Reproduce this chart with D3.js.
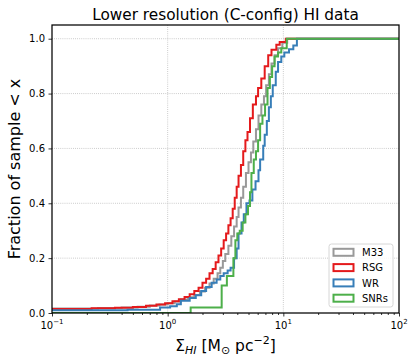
<!DOCTYPE html>
<html>
<head>
<meta charset="utf-8">
<script src="https://cdn.jsdelivr.net/npm/d3@7"></script>
<style>
  body { margin: 0; background: #fff; }
  text { font-family: "DejaVu Sans", sans-serif; fill: #000; }
</style>
</head>
<body>
<svg id="chart"></svg>
<script>
// cumulative step curves: x = step position (M_sun pc^-2), y = fraction of sample
const seriesNames = ["M33", "RSG", "WR", "SNRs"];
const seriesColors = ["#999999", "#e41a1c", "#377eb8", "#4daf4a"];

const m33X = [0.1, 0.25, 0.4, 0.55, 0.7, 0.85, 1.0, 1.15, 1.3, 1.5, 1.7, 1.9, 2.1, 2.3, 2.5, 2.7, 2.85, 3.0, 3.15, 3.35, 3.55, 3.75, 3.95, 4.1, 4.3, 4.5, 4.75, 5.0, 5.25, 5.5, 5.8, 6.1, 6.45, 6.8, 7.1, 7.5, 7.9, 8.4, 9.0, 9.8, 10.8, 100];
const m33Y = [0.016, 0.018, 0.02, 0.023, 0.027, 0.031, 0.036, 0.042, 0.049, 0.057, 0.066, 0.078, 0.092, 0.108, 0.125, 0.145, 0.165, 0.19, 0.215, 0.245, 0.28, 0.315, 0.35, 0.385, 0.42, 0.46, 0.51, 0.55, 0.585, 0.625, 0.67, 0.72, 0.76, 0.79, 0.83, 0.87, 0.91, 0.94, 0.965, 0.985, 1.0, 1.0];

const rsgX = [0.1, 0.22, 0.35, 0.5, 0.65, 0.8, 0.95, 1.1, 1.25, 1.4, 1.55, 1.7, 1.85, 2.0, 2.15, 2.3, 2.45, 2.6, 2.75, 2.9, 3.05, 3.2, 3.35, 3.5, 3.65, 3.8, 3.95, 4.1, 4.3, 4.5, 4.7, 4.9, 5.15, 5.45, 5.8, 6.05, 6.45, 6.9, 7.4, 7.9, 8.7, 9.3, 10.5, 100];
const rsgY = [0.015, 0.017, 0.019, 0.022, 0.026, 0.031, 0.036, 0.043, 0.05, 0.058, 0.068, 0.08, 0.092, 0.11, 0.125, 0.145, 0.16, 0.185, 0.21, 0.235, 0.265, 0.29, 0.32, 0.345, 0.38, 0.42, 0.46, 0.5, 0.54, 0.59, 0.63, 0.66, 0.71, 0.76, 0.79, 0.82, 0.855, 0.9, 0.94, 0.96, 0.978, 0.988, 1.0, 1.0];

const wrX = [0.1, 0.45, 0.86, 1.05, 1.2, 1.3, 1.55, 1.75, 1.95, 2.15, 2.4, 2.65, 2.85, 3.05, 3.3, 3.5, 3.75, 3.95, 4.1, 4.35, 4.55, 4.8, 5.1, 5.4, 5.75, 6.1, 6.3, 6.7, 6.9, 7.2, 7.5, 7.8, 8.1, 8.6, 9.0, 9.6, 10.2, 11.2, 12.2, 13.1, 100];
const wrY = [0.01, 0.012, 0.02, 0.025, 0.032, 0.045, 0.055, 0.065, 0.08, 0.095, 0.11, 0.122, 0.135, 0.145, 0.155, 0.165, 0.2, 0.235, 0.29, 0.33, 0.36, 0.4, 0.41, 0.45, 0.48, 0.52, 0.56, 0.61, 0.65, 0.7, 0.75, 0.79, 0.83, 0.88, 0.915, 0.935, 0.95, 0.962, 0.975, 1.0, 1.0];

const snrX = [0.1, 1.58, 2.93, 3.25, 3.7, 3.85, 4.0, 4.2, 4.45, 4.7, 4.95, 5.15, 5.3, 5.55, 5.8, 6.05, 6.3, 6.6, 6.95, 7.3, 7.65, 8.0, 8.4, 9.0, 9.6, 10.7, 100];
const snrY = [0, 0.02, 0.1, 0.135, 0.2, 0.265, 0.29, 0.3, 0.33, 0.36, 0.39, 0.44, 0.51, 0.56, 0.59, 0.63, 0.69, 0.72, 0.76, 0.82, 0.86, 0.9, 0.935, 0.95, 0.965, 1.0, 1.0];

const xTicks = [0.1, 1, 10, 100];
const xTickExp = ["\u22121", "0", "1", "2"];
const yTicks = [0, 0.2, 0.4, 0.6, 0.8, 1.0];

const W = 415, H = 362;
const margin = { left: 52, top: 25, right: 16, bottom: 49 };
const pw = W - margin.left - margin.right;
const ph = H - margin.top - margin.bottom;

const svg = d3.select("#chart").attr("width", W).attr("height", H);

const x = d3.scaleLog().domain([0.1, 100]).range([0, pw]);
const y = d3.scaleLinear().domain([0, 1.05]).range([ph, 0]);

const g = svg.append("g").attr("transform", `translate(${margin.left},${margin.top})`);

g.append("clipPath").attr("id", "clip")
  .append("rect").attr("width", pw).attr("height", ph);

// grid
const gridCol = "#b0b0b0";
g.append("g").selectAll("line").data(xTicks.slice(1, 3)).join("line")
  .attr("x1", d => x(d)).attr("x2", d => x(d))
  .attr("y1", 0).attr("y2", ph)
  .attr("stroke", gridCol).attr("stroke-width", 0.8).attr("stroke-dasharray", "0.8,1.3");
g.append("g").selectAll("line").data(yTicks.slice(1)).join("line")
  .attr("x1", 0).attr("x2", pw)
  .attr("y1", d => y(d)).attr("y2", d => y(d))
  .attr("stroke", gridCol).attr("stroke-width", 0.8).attr("stroke-dasharray", "0.8,1.3");

// step curves
const series = [
  { xs: m33X, ys: m33Y },
  { xs: rsgX, ys: rsgY },
  { xs: wrX, ys: wrY },
  { xs: snrX, ys: snrY }
];
const line = d3.line()
  .x(d => x(d[0]))
  .y(d => y(d[1]))
  .curve(d3.curveStepAfter);

series.forEach((s, i) => {
  g.append("path")
    .datum(d3.zip(s.xs, s.ys))
    .attr("clip-path", "url(#clip)")
    .attr("d", line)
    .attr("fill", "none")
    .attr("stroke", seriesColors[i])
    .attr("stroke-width", 2);
});

// axes
const xAxis = g.append("g").attr("transform", `translate(0,${ph})`)
  .call(d3.axisBottom(x).tickValues(xTicks).tickSize(3.5).tickFormat(""));
xAxis.select(".domain").remove();
const minor = [];
for (let e = -1; e < 2; e++) for (let k = 2; k < 10; k++) minor.push(k * Math.pow(10, e));
g.append("g").attr("transform", `translate(0,${ph})`)
  .call(d3.axisBottom(x).tickValues(minor).tickSize(2).tickFormat(""))
  .select(".domain").remove();

xTicks.forEach((t, i) => {
  const tx = g.append("text")
    .attr("x", x(t)).attr("y", ph + 15.5)
    .attr("text-anchor", "middle")
    .attr("font-size", 10);
  tx.append("tspan").text("10");
  tx.append("tspan").attr("dy", -4.5).attr("font-size", 7).text(xTickExp[i]);
});

const yAxis = g.append("g")
  .call(d3.axisLeft(y).tickValues(yTicks).tickSize(3.5).tickPadding(3.5).tickFormat(d3.format(".1f")));
yAxis.select(".domain").remove();
yAxis.selectAll("text").attr("font-size", 10).attr("font-family", "DejaVu Sans");
g.selectAll(".tick line").attr("stroke", "#000").attr("stroke-width", 0.8);

// frame
g.append("rect").attr("width", pw).attr("height", ph)
  .attr("fill", "none").attr("stroke", "#000").attr("stroke-width", 1.25);

// title and labels
svg.append("text")
  .attr("x", margin.left + pw / 2).attr("y", 19.5)
  .attr("text-anchor", "middle").attr("font-size", 15.3)
  .text("Lower resolution (C-config) HI data");

svg.append("text")
  .attr("transform", `translate(20,${margin.top + ph / 2}) rotate(-90)`)
  .attr("text-anchor", "middle").attr("font-size", 16)
  .text("Fraction of sample < x");

const xl = svg.append("text")
  .attr("x", margin.left + pw / 2).attr("y", 350.5)
  .attr("text-anchor", "middle").attr("font-size", 15.5);
xl.append("tspan").text("\u03a3");
xl.append("tspan").attr("dy", 3.3).attr("font-size", 11).attr("font-style", "italic").text("HI");
xl.append("tspan").attr("dy", -3.3).text(" [M");
xl.append("tspan").attr("dy", 3.3).attr("font-size", 11).text("\u2299");
xl.append("tspan").attr("dy", -3.3).text(" pc");
xl.append("tspan").attr("dy", -6.5).attr("font-size", 11).text("\u22122");
xl.append("tspan").attr("dy", 6.5).text("]");

// legend
const lg = g.append("g").attr("transform", `translate(${pw - 70},${ph - 69})`);
lg.append("rect").attr("width", 64).attr("height", 63).attr("rx", 2.5)
  .attr("fill", "#fff").attr("fill-opacity", 0.8)
  .attr("stroke", "#cccccc").attr("stroke-width", 0.8);
seriesNames.forEach((n, i) => {
  const ry = 8.3 + i * 15.3;
  lg.append("rect").attr("x", 4.5).attr("y", ry - 3.5).attr("width", 20).attr("height", 7)
    .attr("fill", "none").attr("stroke", seriesColors[i]).attr("stroke-width", 2);
  lg.append("text").attr("x", 33).attr("y", ry + 3.6).attr("font-size", 10).text(n);
});
</script>
</body>
</html>
